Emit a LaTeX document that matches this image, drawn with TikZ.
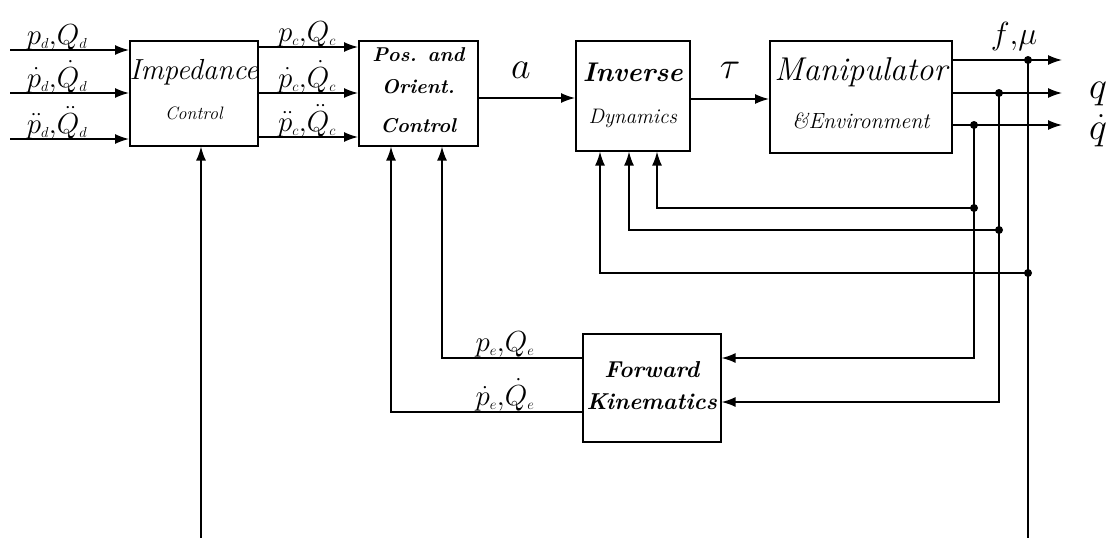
\RequirePackage{fix-cm}
\documentclass[tikz,border=0pt]{standalone}
\usetikzlibrary{arrows.meta}
\newcommand{\sbs}[1]{{\scriptscriptstyle #1}}
\begin{document}
\begin{tikzpicture}[x=1pt,y=-1pt,
  blk/.style={draw, line width=1.6pt, fill=white},
  sig/.style={line width=1.5pt, -{Latex[length=14pt,width=10pt]}},
  wire/.style={line width=1.5pt},
  dotc/.style={circle, fill, inner sep=0pt, minimum size=8pt},
  lbl/.style={inner sep=0pt, anchor=base, font=\fontsize{29}{30}\selectfont},
  biglbl/.style={inner sep=0pt, font=\fontsize{38}{40}\selectfont},
  bigtxt/.style={inner sep=0pt, font=\fontsize{#1}{#1}\selectfont\itshape},
  bftxt/.style={inner sep=0pt, font=\fontsize{#1}{#1}\selectfont\bfseries\itshape}]
\useasboundingbox (0,0) rectangle (1111,538);
% blocks
\node[blk, anchor=north west, minimum width=128pt, minimum height=105pt] (imp) at (129,40) {};
\node[blk, anchor=north west, minimum width=119pt, minimum height=105pt] (pos) at (358,40) {};
\node[blk, anchor=north west, minimum width=114pt, minimum height=110pt] (inv) at (575,40) {};
\node[blk, anchor=north west, minimum width=182pt, minimum height=112pt] (man) at (769,40) {};
\node[blk, anchor=north west, minimum width=138pt, minimum height=108pt] (fk) at (582,333) {};
% block texts
\node[bigtxt=29] (impA) at (imp.center |- 0,72) {Impedance};
\node[bigtxt=18] (impB) at (imp.center |- 0,113) {Control};
\node[bftxt=20] (posA) at (pos.center |- 0,55) {Pos. and};
\node[bftxt=20] (posB) at (pos.center |- 0,87) {Orient.};
\node[bftxt=20] (posC) at (pos.center |- 0,126) {Control};
\node[bftxt=27] (invA) at (inv.center |- 0,72) {Inverse};
\node[bigtxt=21] (invB) at (inv.center |- 0,118) {Dynamics};
\node[bigtxt=33] (manA) at (man.center |- 0,72) {Manipulator};
\node[bigtxt=22] (manB) at (man.center |- 0,121) {\&Environment};
\node[bftxt=23] (fkA) at (fk.center |- 0,370) {Forward};
\node[bftxt=23] (fkB) at (fk.center |- 0,402) {Kinematics};
% input arrows
\coordinate (i1) at (10,50);
\coordinate (i2) at (10,93);
\coordinate (i3) at (10,139);
\draw[sig] (i1) -- (i1 -| imp.west);
\draw[sig] (i2) -- (i2 -| imp.west);
\draw[sig] (i3) -- (i3 -| imp.west);
\node[lbl] (li1) at (57,44) {$p_\sbs{d}{,}Q_\sbs{d}$};
\node[lbl] (li2) at (57,87) {$\dot p_\sbs{d}{,}\dot Q_\sbs{d}$};
\node[lbl] (li3) at (57,133) {$\ddot p_\sbs{d}{,}\ddot Q_\sbs{d}$};
% impedance to pos
\coordinate (c1) at (0,47);
\coordinate (c2) at (0,93);
\coordinate (c3) at (0,137);
\draw[sig] (imp.east |- c1) -- (pos.west |- c1);
\draw[sig] (imp.east |- c2) -- (pos.west |- c2);
\draw[sig] (imp.east |- c3) -- (pos.west |- c3);
\node[lbl] (lc1) at (307,41) {$p_\sbs{c}{,}Q_\sbs{c}$};
\node[lbl] (lc2) at (307,87) {$\dot p_\sbs{c}{,}\dot Q_\sbs{c}$};
\node[lbl] (lc3) at (307,131) {$\ddot p_\sbs{c}{,}\ddot Q_\sbs{c}$};
% a and tau
\coordinate (ya) at (0,98);
\coordinate (yt) at (0,99);
\draw[sig] (pos.east |- ya) -- (inv.west |- ya);
\draw[sig] (inv.east |- yt) -- (man.west |- yt);
\node[biglbl] (la) at (521,70) {$a$};
\node[biglbl] (lt) at (730,70) {$\tau$};
% outputs
\coordinate (o1) at (1062,60);
\coordinate (o2) at (1062,93);
\coordinate (o3) at (1062,125);
\draw[sig] (man.east |- o1) -- (o1);
\draw[sig] (man.east |- o2) -- (o2);
\draw[sig] (man.east |- o3) -- (o3);
\node[inner sep=0pt, font=\fontsize{32}{34}\selectfont] (lf) at (1014,36) {$f{,}\mu$};
\node[biglbl] (lq) at (1098,94) {$q$};
\node[biglbl] (lqd) at (1098,131) {$\dot q$};
% dots
\node[dotc] (d1) at (1028,60) {};
\node[dotc] (d2) at (999,93) {};
\node[dotc] (d3) at (974,125) {};
\node[dotc] (e3) at (974,208) {};
\node[dotc] (e2) at (999,230) {};
\node[dotc] (e1) at (1028,273) {};
% verticals
\coordinate (b1) at (201,538);
\coordinate (b2) at (1028,538);
\coordinate (k1) at (0,358);
\coordinate (k2) at (0,402);
\draw[wire] (d1.center) -- (b2);
\draw[sig] (d3.center) |- (fk.east |- k1);
\draw[sig] (d2.center) |- (fk.east |- k2);
% feedback to inverse dynamics
\coordinate (x1) at (600,0);
\coordinate (x2) at (629,0);
\coordinate (x3) at (657,0);
\draw[sig] (e3.center) -| (x3 |- inv.south);
\draw[sig] (e2.center) -| (x2 |- inv.south);
\draw[sig] (e1.center) -| (x1 |- inv.south);
% forward kinematics outputs
\coordinate (g1) at (0,358);
\coordinate (g2) at (0,412);
\coordinate (xp1) at (391,0);
\coordinate (xp2) at (442,0);
\draw[sig] (fk.west |- g1) -| (xp2 |- pos.south);
\draw[sig] (fk.west |- g2) -| (xp1 |- pos.south);
\node[lbl] (le1) at (505,351) {$p_\sbs{e}{,}Q_\sbs{e}$};
\node[lbl] (le2) at (505,405) {$\dot p_\sbs{e}{,}\dot Q_\sbs{e}$};
% impedance feedback
\draw[sig] (b1) -- (b1 |- imp.south);
\end{tikzpicture}
\end{document}
